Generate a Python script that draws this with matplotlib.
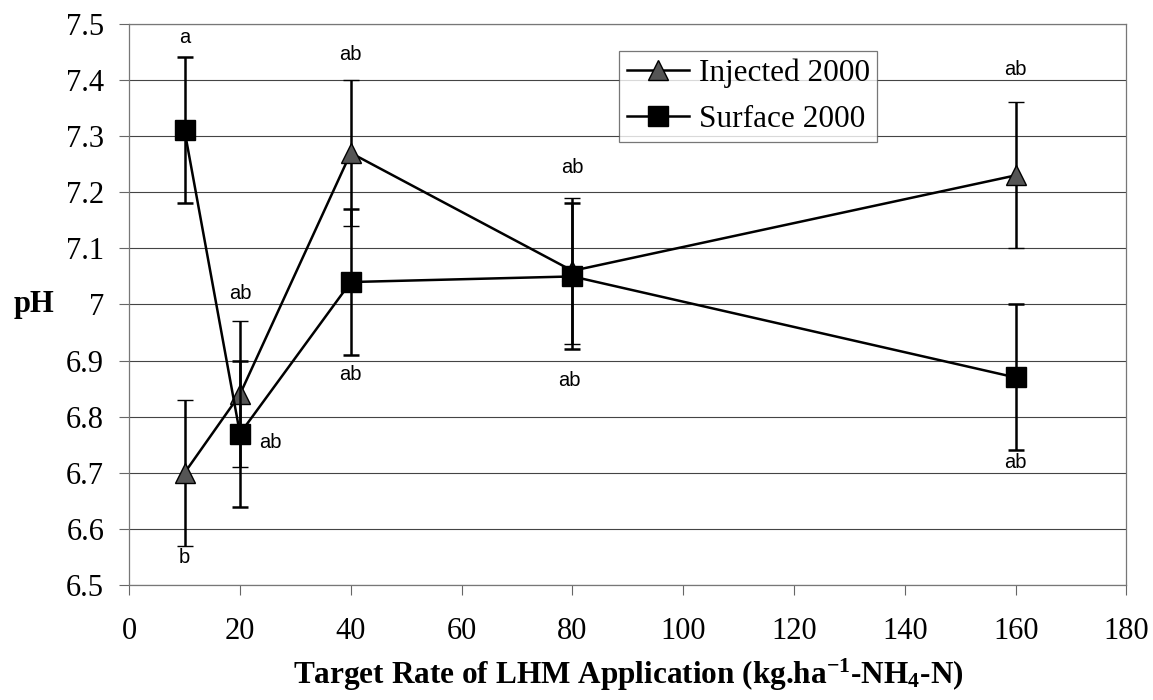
import matplotlib.pyplot as plt

rate = [10, 20, 40, 80, 160]
injected = [6.70, 6.84, 7.27, 7.06, 7.23]
surface = [7.31, 6.77, 7.04, 7.05, 6.87]
error = [0.13, 0.13, 0.13, 0.13, 0.13]

yticks = [6.5, 6.6, 6.7, 6.8, 6.9, 7.0, 7.1, 7.2, 7.3, 7.4, 7.5]
ytick_labels = ["6.5", "6.6", "6.7", "6.8", "6.9", "7", "7.1", "7.2", "7.3", "7.4", "7.5"]
xticks = [0, 20, 40, 60, 80, 100, 120, 140, 160, 180]

# letras de significancia (x, y, texto)
letras = [
    (10, 7.475, "a"), (10, 6.55, "b"),
    (20, 7.02, "ab"), (25.5, 6.755, "ab"),
    (40, 7.445, "ab"), (40, 6.875, "ab"),
    (80, 7.244, "ab"), (79.5, 6.865, "ab"),
    (160, 7.418, "ab"), (160, 6.718, "ab"),
]

plt.rcParams["mathtext.fontset"] = "custom"
plt.rcParams["mathtext.rm"] = "Liberation Serif"
plt.rcParams["mathtext.bf"] = "Liberation Serif:bold"
plt.rcParams["mathtext.it"] = "Liberation Serif:italic"

serif = ["Liberation Serif", "DejaVu Serif"]

fig = plt.figure(figsize=(11.53, 7.0), dpi=100)
ax = fig.add_axes([0.112, 0.164, 0.865, 0.802])

c1 = ax.errorbar(rate, injected, yerr=error, color="black", lw=1.8, ecolor="black",
                 elinewidth=1.8, capsize=6, capthick=1.8, marker="^", ms=15,
                 mfc="#555555", mec="black", mew=1.0, zorder=3)
c2 = ax.errorbar(rate, surface, yerr=error, color="black", lw=1.8, ecolor="black",
                 elinewidth=1.8, capsize=6, capthick=1.8, marker="s", ms=15,
                 mfc="black", mec="black", zorder=4)

for x, y, t in letras:
    ax.text(x, y, t, ha="center", va="center", fontsize=14.5,
            family="Liberation Sans")

ax.set_xlim(0, 180)
ax.set_ylim(6.5, 7.5)
ax.set_xticks(xticks)
ax.set_xticklabels([str(v) for v in xticks], family=serif, fontsize=22)
ax.set_yticks(yticks)
ax.set_yticklabels(ytick_labels, family=serif, fontsize=22)
ax.tick_params(axis="both", direction="out", length=7, color="#666666", width=0.8)
ax.tick_params(axis="x", pad=16)
ax.tick_params(axis="y", pad=11)

ax.yaxis.grid(True, color="#444444", lw=0.8)
ax.set_axisbelow(True)
for s in ax.spines.values():
    s.set_color("#777777")
    s.set_linewidth(0.9)

ax.set_xlabel("Target Rate of LHM Application (kg.ha$^{\\mathbf{-1}}$-NH$_{\\mathbf{4}}$-N)",
              family=serif, fontsize=22.5, fontweight="bold", labelpad=8)
ax.set_ylabel("pH", family=serif, fontsize=22, fontweight="bold", rotation=0,
              ha="center", va="center")
ax.yaxis.set_label_coords(-0.095, 0.5)

leg = ax.legend([c1[0], c2[0]], ["Injected 2000", "Surface 2000"], loc="upper left",
                bbox_to_anchor=(0.491, 0.952), frameon=True, fancybox=False,
                edgecolor="#555555", prop={"family": serif, "size": 22.5},
                handlelength=2.0, borderpad=0.25, labelspacing=0.55, handletextpad=0.3,
                borderaxespad=0)
leg.get_frame().set_linewidth(0.9)

fig.savefig("out.png", dpi=100)
